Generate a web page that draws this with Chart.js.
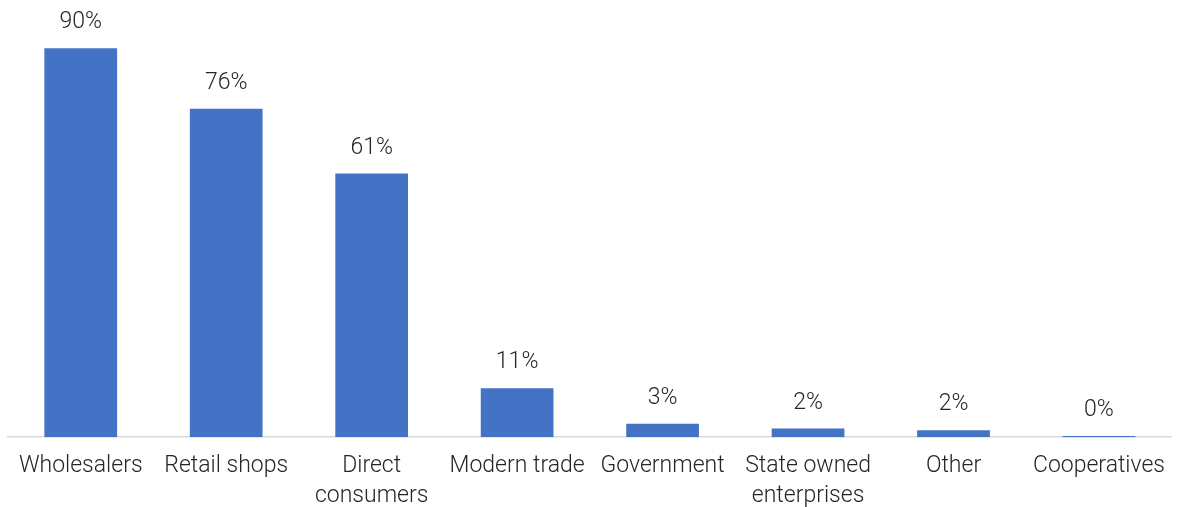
<!DOCTYPE html>
<html>
<head>
<meta charset="utf-8">
<script src="https://cdn.jsdelivr.net/npm/chart.js@4"></script>
<style>
    html, body { margin: 0; padding: 0; background: #fff; }
    #wrap { width: 1179px; height: 507px; }
</style>
</head>
<body>
<div id="wrap"><canvas id="channelChart"></canvas></div>
<script>
const categories = [
    'Wholesalers', 'Retail shops', ['Direct', 'consumers'], 'Modern trade',
    'Government', ['State owned', 'enterprises'], 'Other', 'Cooperatives'
];
const shares = [90, 76, 61, 11.3, 3.1, 2.0, 1.6, 0.3];

// 棒の上にパーセント表示
const valueLabels = {
    id: 'valueLabels',
    afterDatasetsDraw(chart) {
        const ctx = chart.ctx;
        const meta = chart.getDatasetMeta(0);
        ctx.save();
        ctx.font = '300 23px Roboto';
        ctx.fillStyle = '#262626';
        ctx.textAlign = 'center';
        ctx.textBaseline = 'alphabetic';
        meta.data.forEach((bar, i) => {
            ctx.fillText(Math.round(shares[i]) + '%', bar.x, bar.y - 20);
        });
        ctx.restore();
    }
};

const ctx = document.getElementById('channelChart').getContext('2d');
new Chart(ctx, {
    type: 'bar',
    data: {
        labels: categories,
        datasets: [{
            data: shares,
            backgroundColor: '#4472C4',
            categoryPercentage: 1,
            barPercentage: 0.5
        }]
    },
    options: {
        responsive: true,
        maintainAspectRatio: false,
        animation: false,
        layout: {
            padding: { top: 5, left: 8, right: 0, bottom: -18 }
        },
        plugins: {
            legend: { display: false },
            tooltip: { enabled: false }
        },
        scales: {
            x: {
                grid: { display: false, drawTicks: false },
                border: { display: true, color: '#d9d9d9', width: 1.5 },
                ticks: {
                    color: '#262626',
                    padding: 14,
                    maxRotation: 0,
                    autoSkip: false,
                    font: { family: 'Roboto', size: 23, weight: 300, lineHeight: 1.3 }
                }
            },
            y: {
                display: false,
                min: 0,
                max: 100
            }
        }
    },
    plugins: [valueLabels]
});
</script>
</body>
</html>
